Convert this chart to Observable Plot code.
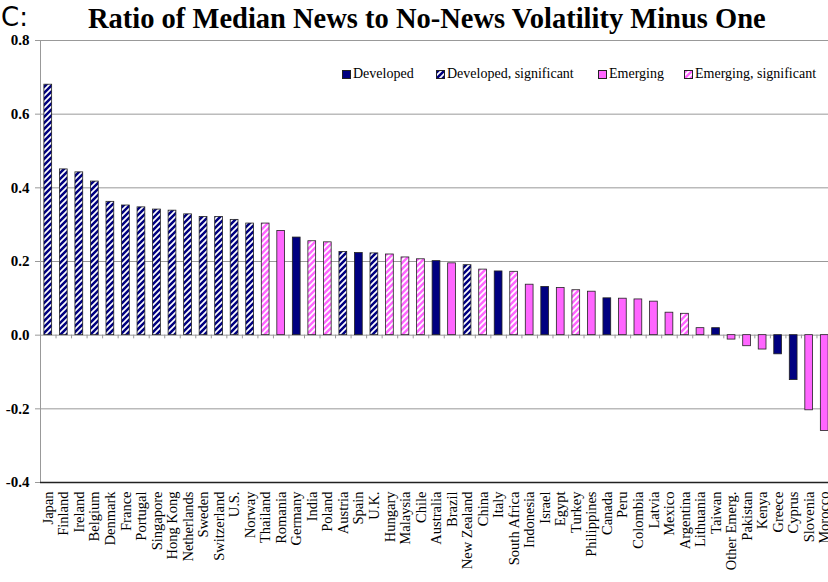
<!DOCTYPE html>
<html>
<head>
<meta charset="utf-8">
<script src="https://cdn.jsdelivr.net/npm/d3@7"></script>
<script src="https://cdn.jsdelivr.net/npm/@observablehq/plot@0.6"></script>
<style>
  html, body { margin: 0; padding: 0; background: #fff; overflow: hidden; }
  #wrap { position: relative; width: 828px; height: 582px; overflow: hidden; }
  #head { position: relative; height: 32px; }
  #tag { position: absolute; left: 1px; top: 4px; font-family: "DejaVu Sans", sans-serif; font-size: 26px; line-height: 1; color: #000; }
  #title { position: absolute; left: 88px; top: 5px; font-family: "Liberation Serif", serif; font-weight: bold; font-size: 28.5px; line-height: 1; white-space: nowrap; color: #000; }
  #legend { position: absolute; left: 0; top: 66px; width: 828px; height: 18px; font-family: "Liberation Serif", serif; font-size: 14px; line-height: 16px; white-space: nowrap; }
  #legend .item { position: absolute; top: 0; display: flex; align-items: center; }
  #legend svg { margin-right: 2px; }
  #defs { position: absolute; width: 0; height: 0; }
</style>
</head>
<body>
<div id="wrap">
  <svg id="defs" width="0" height="0"></svg>
  <div id="head"><div id="tag">C:</div><div id="title">Ratio of Median News to No-News Volatility Minus One</div></div>
  <div id="chart"></div>
  <div id="legend"></div>
</div>
<script>
// ---- data ----
const countries = ["Japan","Finland","Ireland","Belgium","Denmark","France","Portugal","Singapore","Hong Kong","Netherlands","Sweden","Switzerland","U.S.","Norway","Thailand","Romania","Germany","India","Poland","Austria","Spain","U.K.","Hungary","Malaysia","Chile","Australia","Brazil","New Zealand","China","Italy","South Africa","Indonesia","Israel","Egypt","Turkey","Philippines","Canada","Peru","Colombia","Latvia","Mexico","Argentina","Lithuania","Taiwan","Other Emerg.","Pakistan","Kenya","Greece","Cyprus","Slovenia","Morocco"];
const values = [0.680,0.450,0.442,0.417,0.362,0.352,0.347,0.341,0.338,0.328,0.321,0.321,0.313,0.303,0.303,0.283,0.265,0.255,0.252,0.226,0.223,0.222,0.219,0.211,0.206,0.201,0.195,0.190,0.178,0.173,0.172,0.137,0.131,0.128,0.122,0.118,0.100,0.099,0.097,0.091,0.061,0.058,0.019,0.019,-0.012,-0.030,-0.039,-0.052,-0.122,-0.204,-0.260];
const groups = ["DS","DS","DS","DS","DS","DS","DS","DS","DS","DS","DS","DS","DS","DS","ES","E","D","ES","ES","DS","D","DS","ES","ES","ES","D","E","DS","ES","D","ES","E","D","E","ES","E","D","E","E","E","E","ES","E","D","E","E","E","D","D","E","E"];
const groupCodes = ["D","DS","E","ES"];
const groupLabels = ["Developed","Developed, significant","Emerging","Emerging, significant"];
const yTicks = [-0.4,-0.2,0.0,0.2,0.4,0.6,0.8];

// ---- patterns ----
const NAVY = "#000080", PINK = "#ff66ff";
const defs = d3.select("#defs").append("defs");
function hatch(id, bg) {
  const p = defs.append("pattern").attr("id", id).attr("patternUnits", "userSpaceOnUse")
    .attr("width", 6).attr("height", 6);
  p.append("rect").attr("width", 6).attr("height", 6).attr("fill", bg);
  p.append("path").attr("d", "M-1,1 L1,-1 M0,6 L6,0 M5,7 L7,5")
    .attr("stroke", "#fff").attr("stroke-width", 1.7);
}
hatch("hatchNavy", NAVY);
hatch("hatchPink", PINK);
const fills = [NAVY, "url(#hatchNavy)", PINK, "url(#hatchPink)"];

const data = countries.map((c, i) => ({country: c, value: values[i], group: groups[i]}));

const W = 832, ML = 40, MR = 0;
const step = (W - ML - MR) / countries.length;
const SERIF = "'Liberation Serif', 'Times New Roman', serif";

const chart = Plot.plot({
  width: W, height: 550,
  marginLeft: ML, marginRight: MR, marginTop: 8, marginBottom: 100,
  style: {fontFamily: SERIF, fontSize: "14.5px", color: "#000", background: "transparent", maxWidth: "none", overflow: "visible"},
  x: {domain: countries, paddingInner: 0.5, paddingOuter: 0.25, round: false, axis: null, label: null},
  y: {domain: [-0.4, 0.8], axis: null, label: null},
  color: {domain: groupCodes, range: fills},
  marks: [
    Plot.ruleY(yTicks.filter(d => d > -0.4), {stroke: "#999", strokeWidth: 1}),
    Plot.frame({anchor: "left", stroke: "#999"}),
    Plot.ruleX(countries, {x: d => d, y1: 0, y2: -0.01, dx: step / 2, stroke: "#999"}),
    Plot.barY(data, {x: "country", y: "value", fill: "group", stroke: "#222", strokeWidth: 0.8}),
    Plot.ruleY([-0.4], {stroke: "#222", strokeWidth: 1.5}),
    Plot.axisY({ticks: yTicks, tickFormat: d => d.toFixed(1), tickSize: 5, tickPadding: 6, stroke: "#999", fill: "#000", fontFamily: SERIF, fontSize: 15, fontWeight: "bold", label: null}),
    Plot.axisX({anchor: "bottom", tickSize: 0, tickPadding: 9, tickRotate: -90, fontFamily: SERIF, fontSize: 14.5, fill: "#000", label: null})
  ]
});
document.getElementById("chart").appendChild(chart);

// ---- legend ----
const legendX = [342, 436, 598, 684];
const leg = d3.select("#legend");
groupCodes.forEach((g, i) => {
  const it = leg.append("div").attr("class", "item").style("left", legendX[i] + "px");
  const s = it.append("svg").attr("width", 9).attr("height", 9);
  s.append("rect").attr("x", 0.5).attr("y", 0.5).attr("width", 8).attr("height", 8)
    .attr("fill", fills[i]).attr("stroke", "#222").attr("stroke-width", 1);
  it.append("span").text(groupLabels[i]);
});
</script>
</body>
</html>
